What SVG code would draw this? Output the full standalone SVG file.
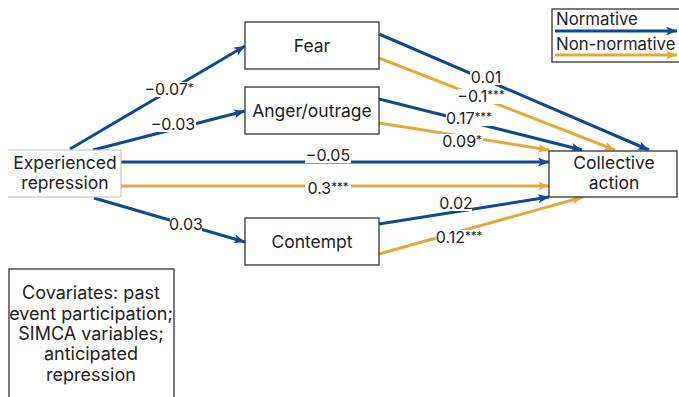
<svg xmlns="http://www.w3.org/2000/svg" width="679" height="397" viewBox="0 0 679 397">
<defs>
<marker id="ab" viewBox="0 0 10 10" refX="10" refY="5" markerWidth="11" markerHeight="9" markerUnits="userSpaceOnUse" orient="auto" preserveAspectRatio="none"><path d="M0,0 L10,5 L0,10 L2.5,5 Z" fill="#0c4b93"/></marker>
<marker id="ag" viewBox="0 0 10 10" refX="10" refY="5" markerWidth="11" markerHeight="9" markerUnits="userSpaceOnUse" orient="auto" preserveAspectRatio="none"><path d="M0,0 L10,5 L0,10 L2.5,5 Z" fill="#e2aa36"/></marker>
<style>
.box{fill:#fff;stroke:#333;stroke-width:1.3}
.t{font-family:Inter,"Liberation Sans",sans-serif;font-size:17.5px;fill:#222;text-anchor:middle}
.c{font-size:18px}
.lg{font-size:16.8px;text-anchor:start}
.l{font-family:Inter,"Liberation Sans",sans-serif;font-size:16px;fill:#222;text-anchor:middle}
.bg{fill:#fff}
.s{font-size:11.5px}
.b{stroke:#0c4b93;stroke-width:3;fill:none;marker-end:url(#ab)}
.g{stroke:#e2aa36;stroke-width:3;fill:none;marker-end:url(#ag)}
</style>
</defs>
<rect width="679" height="397" fill="#fff"/>
<g id="connectors">
<line class="b" x1="70" y1="149" x2="245" y2="46"/>
<line class="b" x1="93" y1="150" x2="245" y2="111"/>
<line class="b" x1="121" y1="162" x2="549" y2="162"/>
<line class="g" x1="121" y1="186" x2="549" y2="186"/>
<line class="b" x1="94" y1="198" x2="245" y2="242"/>
<line class="b" x1="379" y1="34" x2="649" y2="150"/>
<line class="g" x1="379" y1="58" x2="615" y2="150"/>
<line class="b" x1="379" y1="99" x2="582" y2="150"/>
<line class="g" x1="379" y1="123" x2="549" y2="150"/>
<line class="b" x1="379" y1="224" x2="549" y2="197"/>
<line class="g" x1="379" y1="254" x2="583" y2="197"/>
<rect class="bg" x="145" y="82" width="49" height="15"/>
<rect class="bg" x="150" y="117" width="46" height="15"/>
<rect class="bg" x="305" y="148" width="46" height="15"/>
<rect class="bg" x="305" y="181" width="46" height="15"/>
<rect class="bg" x="170" y="217" width="32" height="15"/>
<rect class="bg" x="470" y="70" width="32" height="15"/>
<rect class="bg" x="458" y="89" width="46" height="15"/>
<rect class="bg" x="446" y="111" width="47" height="15"/>
<rect class="bg" x="441" y="134" width="42" height="15"/>
<rect class="bg" x="440" y="196" width="32" height="15"/>
<rect class="bg" x="436" y="230" width="47" height="15"/>
<text class="l" x="169" y="95">−0.07<tspan class="s" dy="-3">*</tspan></text>
<text class="l" x="173" y="130">−0.03</text>
<text class="l" x="328" y="161">−0.05</text>
<text class="l" x="328" y="194">0.3<tspan class="s" dy="-3">***</tspan></text>
<text class="l" x="186" y="230">0.03</text>
<text class="l" x="486" y="83">0.01</text>
<text class="l" x="481" y="102">−0.1<tspan class="s" dy="-3">***</tspan></text>
<text class="l" x="469" y="124">0.17<tspan class="s" dy="-3">***</tspan></text>
<text class="l" x="462" y="147">0.09<tspan class="s" dy="-3">*</tspan></text>
<text class="l" x="456" y="209">0.02</text>
<text class="l" x="459" y="243">0.12<tspan class="s" dy="-3">***</tspan></text>
</g>
<g id="node-fear"><rect class="box" x="245" y="22" width="134" height="47"/><text class="t" x="312" y="52">Fear</text></g>
<g id="node-anger"><rect class="box" x="245" y="87" width="134" height="47"/><text class="t" x="312" y="117">Anger/outrage</text></g>
<g id="node-contempt"><rect class="box" x="245" y="218" width="134" height="47"/><text class="t" x="312" y="248">Contempt</text></g>
<g id="node-repression"><path d="M8,150 H121 V197 H8" fill="#fff" stroke="#bbb" stroke-width="1"/><text class="t" x="65" y="169">Experienced</text><text class="t" x="65" y="189">repression</text></g>
<g id="node-action"><rect class="box" x="549" y="151" width="128" height="46"/><text class="t" x="614" y="169">Collective</text><text class="t" x="614" y="189">action</text></g>
<g id="node-covariates"><rect class="box" x="9" y="269" width="165" height="140"/>
<text class="t c" x="91" y="299">Covariates: past</text>
<text class="t c" x="91" y="320">event participation;</text>
<text class="t c" x="91" y="340">SIMCA variables;</text>
<text class="t c" x="91" y="360">anticipated</text>
<text class="t c" x="91" y="381">repression</text></g>
<g id="legend"><rect class="box" x="552" y="9" width="130" height="53"/>
<text class="t lg" x="556" y="25">Normative</text>
<line class="b" x1="555" y1="31" x2="677" y2="31"/>
<text class="t lg" x="556" y="50">Non-normative</text>
<line class="g" x1="555" y1="55" x2="677" y2="55"/></g>
</svg>
